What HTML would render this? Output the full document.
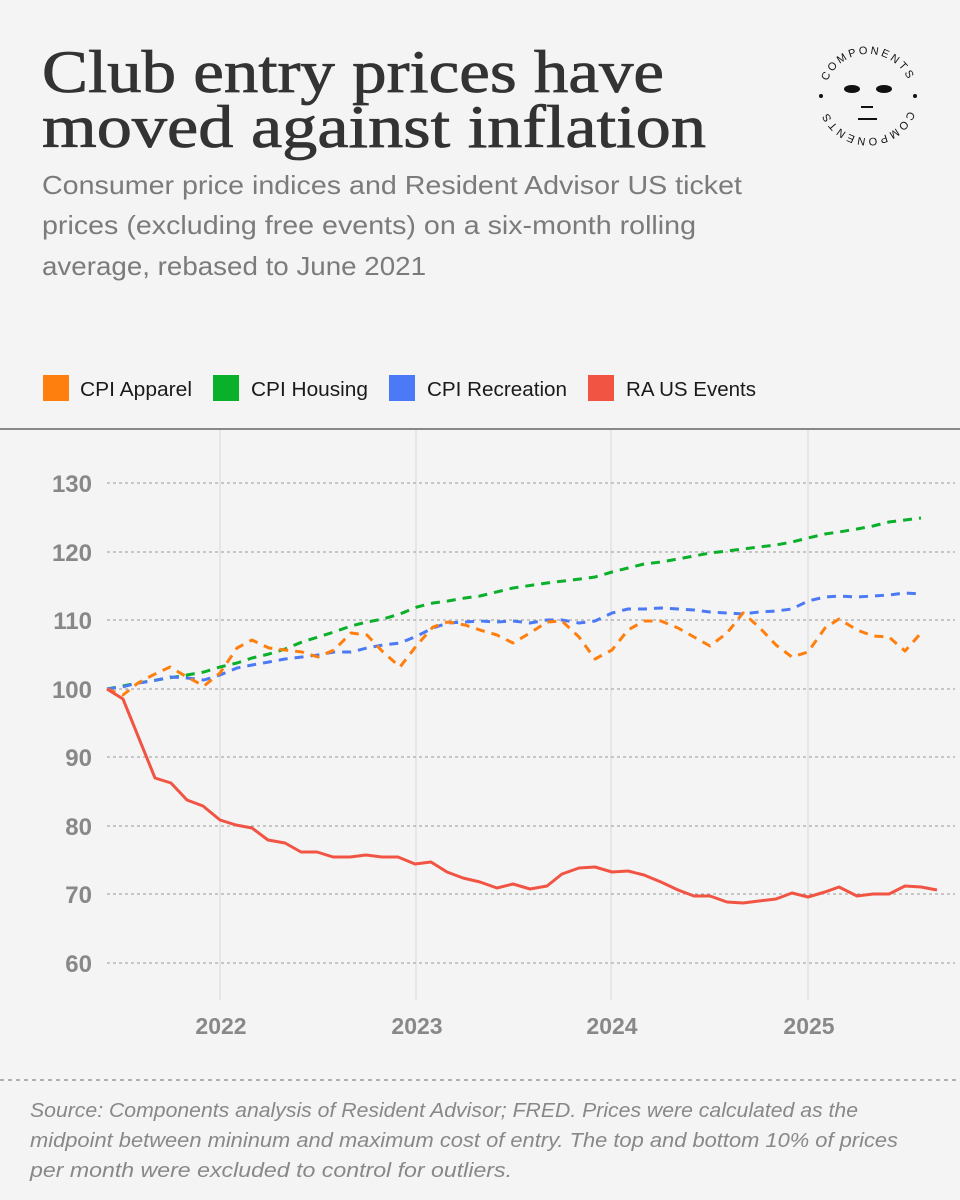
<!DOCTYPE html>
<html><head><meta charset="utf-8"><style>
html,body{margin:0;padding:0;background:#f4f4f4;}
svg{display:block;}
</style></head><body>
<svg width="960" height="1200" viewBox="0 0 960 1200" xmlns="http://www.w3.org/2000/svg">
<rect width="960" height="1200" fill="#f4f4f4"/>
<g font-family="Liberation Serif, serif" fill="#333" font-size="60" stroke="#333" stroke-width="0.8">
<text x="42" y="92" textLength="622" lengthAdjust="spacingAndGlyphs">Club entry prices have</text>
<text x="42" y="147" textLength="664" lengthAdjust="spacingAndGlyphs">moved against inflation</text>
</g>
<g font-family="Liberation Sans, sans-serif" fill="#7b7b7b" font-size="26">
<text x="42" y="194" textLength="700" lengthAdjust="spacingAndGlyphs">Consumer price indices and Resident Advisor US ticket</text>
<text x="42" y="234" textLength="654" lengthAdjust="spacingAndGlyphs">prices (excluding free events) on a six-month rolling</text>
<text x="42" y="275" textLength="384" lengthAdjust="spacingAndGlyphs">average, rebased to June 2021</text>
</g>
<!-- logo -->
<g font-family="Liberation Sans, sans-serif" font-size="11" fill="#111" letter-spacing="2.5">
<defs>
<path id="arcT" d="M 824 98 A 44 44 0 0 1 912 98"/>
</defs>
<text text-anchor="middle"><textPath href="#arcT" startOffset="50%">COMPONENTS</textPath></text>
<text text-anchor="middle" transform="rotate(180 868 96)"><textPath href="#arcT" startOffset="50%">COMPONENTS</textPath></text>
<circle cx="821" cy="96" r="2"/><circle cx="915" cy="96" r="2"/>
<ellipse cx="852" cy="89" rx="8" ry="4"/><ellipse cx="884" cy="89" rx="8" ry="4"/>
<rect x="861" y="106" width="12" height="2"/><rect x="858" y="118" width="19" height="2"/>
</g>
<!-- legend -->
<g font-family="Liberation Sans, sans-serif" font-size="20.5" fill="#1a1a1a">
<rect x="43" y="375" width="26" height="26" fill="#ff7f0e"/><text x="80" y="396" textLength="112" lengthAdjust="spacingAndGlyphs">CPI Apparel</text>
<rect x="213" y="375" width="26" height="26" fill="#0aaf2a"/><text x="251" y="396" textLength="117" lengthAdjust="spacingAndGlyphs">CPI Housing</text>
<rect x="389" y="375" width="26" height="26" fill="#4c79f5"/><text x="427" y="396" textLength="140" lengthAdjust="spacingAndGlyphs">CPI Recreation</text>
<rect x="588" y="375" width="26" height="26" fill="#f25444"/><text x="626" y="396" textLength="130" lengthAdjust="spacingAndGlyphs">RA US Events</text>
</g>
<line x1="0" y1="429" x2="960" y2="429" stroke="#888" stroke-width="2"/>
<g stroke="#e6e6e6" stroke-width="2">
<line x1="220" y1="430" x2="220" y2="1000"/><line x1="416" y1="430" x2="416" y2="1000"/>
<line x1="611" y1="430" x2="611" y2="1000"/><line x1="808" y1="430" x2="808" y2="1000"/>
</g>
<g stroke="#999" stroke-width="1" stroke-dasharray="3,3">
<line x1="107" y1="483" x2="955" y2="483"/><line x1="107" y1="552" x2="955" y2="552"/>
<line x1="107" y1="620" x2="955" y2="620"/><line x1="107" y1="689" x2="955" y2="689"/>
<line x1="107" y1="757" x2="955" y2="757"/><line x1="107" y1="826" x2="955" y2="826"/>
<line x1="107" y1="894" x2="955" y2="894"/><line x1="107" y1="963" x2="955" y2="963"/>
</g>
<g font-family="Liberation Sans, sans-serif" font-weight="bold" font-size="24" fill="#888" text-anchor="end">
<text x="92" y="492">130</text><text x="92" y="561">120</text><text x="92" y="629">110</text>
<text x="92" y="698">100</text><text x="92" y="766">90</text><text x="92" y="835">80</text>
<text x="92" y="903">70</text><text x="92" y="972">60</text>
</g>
<g font-family="Liberation Sans, sans-serif" font-weight="bold" font-size="23" fill="#888" text-anchor="middle">
<text x="221" y="1034">2022</text><text x="417" y="1034">2023</text><text x="612" y="1034">2024</text><text x="809" y="1034">2025</text>
</g>
<g fill="none" stroke-width="3" stroke-linejoin="round">
<polyline stroke="#0aaf2a" stroke-dasharray="9,7" points="107,689 138,683 187,675 204,672 220,667 237,663 252,658 269,654 285,649 302,642 318,637 334,632 351,626 367,622 383,619 400,614 417,607 433,603 448,601 465,598 480,596 513,588 547,583 580,579 595,577 612,572 628,568 644,564 661,562 678,559 694,556 710,553 727,551 743,549 759,547 776,545 792,542 808,538 825,534 839,532 857,529 873,526 889,522 905,520 921,518"/>
<polyline stroke="#4c79f5" stroke-dasharray="9,7" points="107,689 122,687 138,683 153,681 170,677 187,678 204,680 220,675 237,668 252,665 269,662 285,659 302,657 318,655 334,652 351,652 367,648 383,645 400,643 417,636 433,628 448,623 465,622 480,621 497,622 513,621 530,623 547,620 562,620 579,623 595,621 612,613 628,609 644,609 661,608 678,609 694,610 710,612 727,613 743,614 759,612 776,611 792,609 808,601 825,597 839,596 857,597 873,596 889,595 905,593 921,594"/>
<polyline stroke="#ff7f0e" stroke-dasharray="9,7" points="107,689 123,695 138,683 153,675 170,667 187,677 204,686 220,673 237,648 252,640 269,648 285,650 302,652 318,657 334,650 351,633 367,635 383,652 400,667 417,645 433,627 448,622 465,625 480,630 497,635 513,643 530,633 547,622 562,621 579,637 595,659 612,650 628,630 644,621 661,621 678,628 694,637 710,646 727,633 743,613 759,627 776,645 792,657 808,652 825,628 839,619 857,630 873,636 889,637 905,651 921,633"/>
<polyline stroke="#f25444" points="107,689 123,699 138,736 155,778 171,783 187,800 203,806 220,820 236,825 252,828 268,840 285,843 301,852 317,852 333,857 350,857 366,855 382,857 398,857 415,864 431,862 447,872 463,878 480,882 497,888 513,884 530,889 547,886 562,874 579,868 595,867 612,872 628,871 644,875 661,882 678,890 694,896 710,896 727,902 743,903 759,901 776,899 792,893 808,897 825,892 839,887 857,896 873,894 889,894 905,886 921,887 937,890"/>
</g>
<line x1="0" y1="1080" x2="960" y2="1080" stroke="#999" stroke-width="1.5" stroke-dasharray="4,4"/>
<g font-family="Liberation Sans, sans-serif" font-style="italic" font-size="20" fill="#888">
<text x="30" y="1117" textLength="828" lengthAdjust="spacingAndGlyphs">Source: Components analysis of Resident Advisor; FRED. Prices were calculated as the</text>
<text x="30" y="1147" textLength="868" lengthAdjust="spacingAndGlyphs">midpoint between mininum and maximum cost of entry. The top and bottom 10% of prices</text>
<text x="30" y="1177" textLength="482" lengthAdjust="spacingAndGlyphs">per month were excluded to control for outliers.</text>
</g>
</svg>
</body></html>
